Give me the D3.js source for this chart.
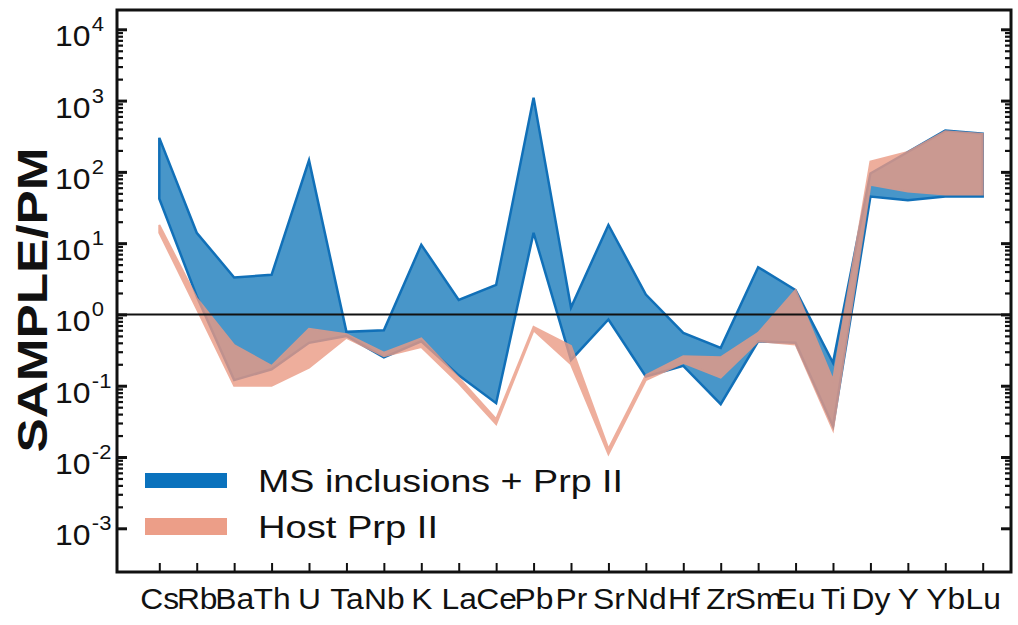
<!DOCTYPE html>
<html><head><meta charset="utf-8">
<script src="https://cdn.jsdelivr.net/npm/d3@7"></script>
<style>body{margin:0;background:#fff}svg{display:block}text{font-family:"Liberation Sans",Arial,Helvetica,sans-serif}</style>
</head><body><svg id="c" width="1018" height="625"></svg>
<script>
const elements = ["Cs","Rb","Ba","Th","U","Ta","Nb","K","La","Ce","Pb","Pr","Sr","Nd","Hf","Zr","Sm","Eu","Ti","Dy","Y","Yb","Lu"];
const msUpper   = [300, 14, 3.3, 3.6, 145, 0.57, 0.6, 9.5, 1.6, 2.6, 1100, 1.25, 18, 1.9, 0.55, 0.34, 4.6, 2.2, 0.21, 95, 190, 380, 345];
const msLower   = [42, 1.8, 0.12, 0.17, 0.4, 0.5, 0.25, 0.42, 0.14, 0.057, 14, 0.23, 0.85, 0.135, 0.19, 0.055, 0.42, 0.4, 0.027, 45, 40, 45, 45];
const hostUpper = [18, 1.7, 0.37, 0.19, 0.63, 0.53, 0.29, 0.46, 0.13, 0.034, 0.67, 0.36, 0.013, 0.14, 0.26, 0.25, 0.55, 2.2, 0.12, 140, 190, 370, 340];
const hostLower = [14, 1.2, 0.1, 0.1, 0.18, 0.47, 0.26, 0.35, 0.108, 0.029, 0.6, 0.2, 0.011, 0.12, 0.21, 0.13, 0.42, 0.38, 0.024, 66, 53, 48, 48];
const yExponents = [-3,-2,-1,0,1,2,3,4];
const legendLabels = ["MS inclusions + Prp II","Host Prp II"];
const yTitle = "SAMPLE/PM";

const svg = d3.select("#c");
svg.append("rect").attr("width",1018).attr("height",625).attr("fill","#fff");
const L=117,R=1011,T=10,B=572;
const x = d3.scalePoint().domain(elements).range([159.3,982.7]);
const y = d3.scaleLog().domain([1e-3,1e4]).range([528.3,29.3]);

const msData = elements.map((e,i)=>({e,lo:msLower[i],hi:msUpper[i]}));
const hostData = elements.map((e,i)=>({e,lo:hostLower[i],hi:hostUpper[i]}));
const area = d3.area().x(d=>x(d.e)).y0(d=>y(d.lo)).y1(d=>y(d.hi));

svg.append("path").datum(msData).attr("d",area)
  .attr("fill","#4896c9").attr("stroke","#1170b8").attr("stroke-width",2.5);
const hg = svg.append("g").attr("opacity",0.8);
hg.append("path").datum(hostData).attr("d",area)
  .attr("fill","#eb9a84").attr("stroke","#eb9a84").attr("stroke-width",2);

// reference line at 1
svg.append("line").attr("x1",L).attr("x2",R).attr("y1",y(1)).attr("y2",y(1))
  .attr("stroke","#111").attr("stroke-width",2);

// ticks
const allT = y.ticks();
const isMajor = v => Math.abs(Math.log10(v)-Math.round(Math.log10(v)))<1e-9;
const majors = allT.filter(isMajor), minors = allT.filter(v=>!isMajor(v));
function styleAxis(g,w){ g.select(".domain").remove(); g.selectAll("line").attr("stroke","#111").attr("stroke-width",w); }
svg.append("g").attr("transform",`translate(${L},0)`).call(d3.axisLeft(y).tickValues(majors).tickSize(-10).tickFormat("")).call(g=>styleAxis(g,3));
svg.append("g").attr("transform",`translate(${L},0)`).call(d3.axisLeft(y).tickValues(minors).tickSize(-6).tickFormat("")).call(g=>styleAxis(g,2.2));
svg.append("g").attr("transform",`translate(${R},0)`).call(d3.axisRight(y).tickValues(majors).tickSize(-10).tickFormat("")).call(g=>styleAxis(g,3));
svg.append("g").attr("transform",`translate(${R},0)`).call(d3.axisRight(y).tickValues(minors).tickSize(-6).tickFormat("")).call(g=>styleAxis(g,2.2));

const xa = svg.append("g").attr("transform",`translate(0,${B})`).call(d3.axisBottom(x).tickSize(-9));
xa.select(".domain").remove();
xa.selectAll("line").attr("stroke","#111").attr("stroke-width",2);
xa.selectAll("text").attr("y",37).attr("dy",0).attr("font-size",30).attr("fill","#111")
  .attr("font-family",'"Liberation Sans",Arial,sans-serif').attr("transform","scale(1.06,1)");

// frame
svg.append("rect").attr("x",L).attr("y",T).attr("width",R-L).attr("height",B-T)
  .attr("fill","none").attr("stroke","#111").attr("stroke-width",3);

// y tick labels
yExponents.forEach(e=>{
  const g = svg.append("g").attr("transform",`translate(55,${y(Math.pow(10,e))+17}) scale(1.1,1)`);
  g.append("text").attr("font-size",29).attr("fill","#111").text("10");
  g.append("text").attr("x",33.5).attr("y",-15).attr("font-size",20).attr("fill","#111").text(String(e));
});

// y title
svg.append("text").attr("transform","translate(47,300) rotate(-90)").attr("text-anchor","middle")
  .attr("font-size",42).attr("font-weight","bold").attr("fill","#111")
  .attr("textLength",305).attr("lengthAdjust","spacingAndGlyphs").text(yTitle);

// legend
const legColors = ["#0a72bd","#ec9e88"];
const legY = [473,518], legH=[15,17], legBase=[492,538], legLen=[365,180];
legendLabels.forEach((t,i)=>{
  svg.append("rect").attr("x",145).attr("y",legY[i]).attr("width",82).attr("height",legH[i]).attr("fill",legColors[i]);
  svg.append("text").attr("x",258).attr("y",legBase[i]).attr("font-size",31).attr("fill","#111")
    .attr("textLength",legLen[i]).attr("lengthAdjust","spacingAndGlyphs").text(t);
});
</script></body></html>
